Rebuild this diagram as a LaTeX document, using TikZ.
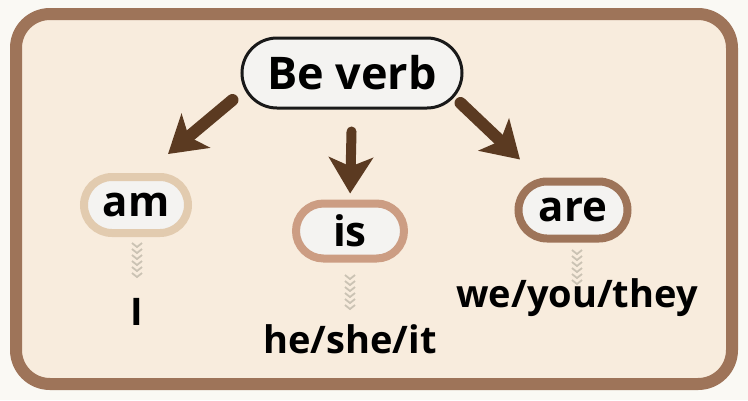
\documentclass[tikz,border=0pt]{standalone}
\usepackage{fontspec}
\setmainfont{Open Sans}
\usetikzlibrary{positioning, arrows.meta, shapes.misc}
\definecolor{pagebg}{HTML}{FAF9F4}
\definecolor{panel}{HTML}{F8ECDD}
\definecolor{framecol}{HTML}{9E7459}
\definecolor{pillfill}{HTML}{F4F3F1}
\definecolor{amcol}{HTML}{E2CBAF}
\definecolor{iscol}{HTML}{CC9D83}
\definecolor{arecol}{HTML}{9E7459}
\definecolor{arrowcol}{HTML}{5B3A21}
\definecolor{chevcol}{HTML}{CBC3B4}
\tikzset{
pill/.style={shape=rounded rectangle, inner sep=0, fill=pillfill, font=\fontsize{42}{48}\selectfont\bfseries},
root/.style={pill, minimum width=220pt, minimum height=70pt, draw=black!90, line width=3pt, font=\fontsize{45}{52}\selectfont\bfseries},
pron/.style={anchor=base, inner sep=0, font=\fontsize{38}{44}\selectfont\bfseries},
bigarrow/.style={draw=arrowcol, line width=12pt, line cap=round, -{Stealth[length=36pt, width=44pt, inset=9pt]}},
chev/.style={draw=chevcol, line width=1.8pt}}

\begin{document}
\begin{tikzpicture}[x=1pt, y=-1pt]
\useasboundingbox (0,0) rectangle (748,400);
\fill [pagebg] (0,0) rectangle (748,400);
\draw [framecol, fill=panel, line width=12pt, rounded corners=34pt] (16,14) rectangle (732,384);

\node [root] at (352,73) (be) {Be verb};

\foreach \wlabel/\plabel/\wx/\wy/\ww/\wh/\col/\cx/\cy/\py [count=\j] in
    {am/I/136/205/104/56/amcol/137/243/325,
     is/he\slash she\slash it/350/231/108/55/iscol/350/275/353,
     are/we\slash you\slash they/573/210/109/57/arecol/577/250/307}{
      \node [pill, draw=\col, line width=8pt, minimum width=\ww pt, minimum height=\wh pt] at (\wx,\wy) (word-\j) {\wlabel};
      \node [pron] at (\cx,\py) (pron-\j) {\plabel};
      \foreach \k in {0,...,5}{
          \draw [chev] (\cx-5,\cy+6*\k) -- (\cx,\cy+6*\k+4) -- (\cx+5,\cy+6*\k);
      }
}

\draw [bigarrow] ([shift={(-8,27)}]be.west) -- ([shift={(32,-19)}]word-1.north);
\draw [bigarrow, line width=10pt, shorten <=22pt, shorten >=6pt] (be.south) -- (word-2.north);
\draw [bigarrow] ([shift={(-3,30)}]be.east) -- ([shift={(-53,-18)}]word-3.north);
\end{tikzpicture}
\end{document}
